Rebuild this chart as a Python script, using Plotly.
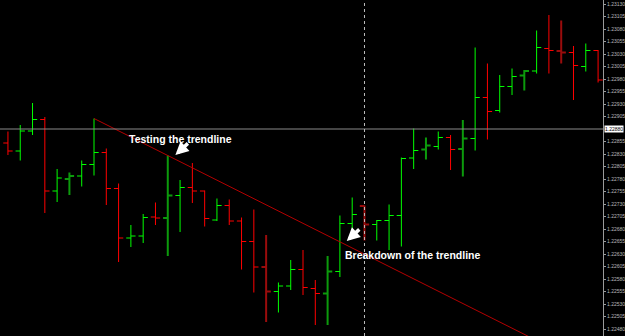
import plotly.graph_objects as go

# ---- data (EUR/USD style price bars) ----
bar_index = list(range(49))
opens = [1.22852, 1.22836, 1.22876, 1.22899, 1.22756, 1.22780, 1.22786, 1.22809, 1.22833, 1.22761,
         1.22662, 1.22666, 1.22704, 1.22702, 1.22747, 1.22763, 1.22756, 1.22698, 1.22727, 1.22696,
         1.22655, 1.22604, 1.22555, 1.22566, 1.22599, 1.22561, 1.22551, 1.22595, 1.22691, 1.22726,
         1.22689, 1.22697, 1.22707, 1.22822, 1.22839, 1.22845, 1.22863, 1.22840, 1.22861, 1.22943,
         1.22917, 1.22965, 1.22987, 1.22996, 1.23041, 1.23036, 1.23033, 1.23005, 1.23037]
highs = [1.22875, 1.22888, 1.22932, 1.22904, 1.22800, 1.22793, 1.22817, 1.22901, 1.22841, 1.22771,
         1.22688, 1.22710, 1.22733, 1.22827, 1.22778, 1.22812, 1.22757, 1.22741, 1.22739, 1.22703,
         1.22719, 1.22668, 1.22573, 1.22618, 1.22638, 1.22578, 1.22626, 1.22707, 1.22743, 1.22727,
         1.22698, 1.22729, 1.22823, 1.22881, 1.22863, 1.22875, 1.22868, 1.22898, 1.23043, 1.23011,
         1.22988, 1.23001, 1.22998, 1.23077, 1.23108, 1.23097, 1.23046, 1.23051, 1.23038]
lows = [1.22828, 1.22817, 1.22868, 1.22712, 1.22734, 1.22748, 1.22765, 1.22787, 1.22728, 1.22614,
        1.22644, 1.22652, 1.22688, 1.22626, 1.22674, 1.22732, 1.22685, 1.22696, 1.22688, 1.22599,
        1.22553, 1.22494, 1.22513, 1.22558, 1.22548, 1.22488, 1.22488, 1.22584, 1.22671, 1.22657,
        1.22657, 1.22638, 1.22645, 1.22800, 1.22819, 1.22839, 1.22798, 1.22785, 1.22837, 1.22859,
        1.22913, 1.22948, 1.22957, 1.22991, 1.22991, 1.23011, 1.22938, 1.22995, 1.22973]
closes = [1.22836, 1.22876, 1.22899, 1.22756, 1.22782, 1.22786, 1.22809, 1.22833, 1.22761, 1.22662,
          1.22666, 1.22703, 1.22702, 1.22747, 1.22763, 1.22756, 1.22701, 1.22727, 1.22696, 1.22655,
          1.22604, 1.22555, 1.22566, 1.22599, 1.22563, 1.22551, 1.22595, 1.22691, 1.22709, 1.22689,
          1.22697, 1.22707, 1.22821, 1.22837, 1.22847, 1.22863, 1.22839, 1.22861, 1.22943, 1.22915,
          1.22965, 1.22985, 1.22996, 1.23043, 1.23037, 1.23033, 1.23007, 1.23037, 1.22978]

# bars rendered blurred (half-pixel) in the original terminal
blurred_bars = [5, 13, 21, 26, 29, 34, 37, 42, 45]

# trendline anchors (bar index, price) and its ray end
trend_x = [7, 13]
trend_y = [1.22901, 1.22827]
trend_end_index = 56

level_price = 1.22880        # horizontal line / highlighted price
cursor_bar = 29              # vertical dotted cursor line

# right-axis price labels (the highlighted level label replaces its own tick)
tick_prices = [1.22480, 1.22505, 1.22530, 1.22555, 1.22580, 1.22605, 1.22630, 1.22655, 1.22680,
               1.22705, 1.22730, 1.22755, 1.22780, 1.22805, 1.22830, 1.22855,
               1.22905, 1.22930, 1.22955, 1.22980, 1.23005, 1.23030, 1.23055, 1.23080,
               1.23105, 1.23130]
y_range = [1.22466, 1.23138]
x_range = [-0.646, 48.40]

label_testing = "Testing the trendline"
label_breakdown = "Breakdown of the trendline"

# ---- build figure ----
fig = go.Figure()

def subset(values, keep):
    return [v if keep(i) else None for i, v in enumerate(values)]

for is_blur in (False, True):
    keep = (lambda i, b=is_blur: (i in blurred_bars) == b)
    fig.add_trace(go.Ohlc(
        x=bar_index,
        open=subset(opens, keep), high=subset(highs, keep),
        low=subset(lows, keep), close=subset(closes, keep),
        increasing=dict(line=dict(color="#0c9a0c" if is_blur else "#00ff00", width=2 if is_blur else 1)),
        decreasing=dict(line=dict(color="#9a0c0c" if is_blur else "#ff0000", width=2 if is_blur else 1)),
        tickwidth=0.38, showlegend=False, hoverinfo="skip",
    ))

slope = (trend_y[1] - trend_y[0]) / (trend_x[1] - trend_x[0])
fig.add_trace(go.Scatter(
    x=[trend_x[0], trend_end_index],
    y=[trend_y[0], trend_y[0] + slope * (trend_end_index - trend_x[0])],
    mode="lines", line=dict(color="#b40000", width=1),
    showlegend=False, hoverinfo="skip",
))

fig.add_shape(type="line", xref="paper", yref="y", x0=0, x1=1, y0=level_price, y1=level_price,
              line=dict(color="#8a8a8a", width=1))
fig.add_shape(type="line", xref="x", yref="paper", x0=cursor_bar, x1=cursor_bar, y0=0, y1=1,
              line=dict(color="#bdbdbd", width=1, dash="dot"))

# text labels
fig.add_annotation(x=9.70, y=1.22860, text="<b>" + label_testing + "</b>", showarrow=False,
                   xanchor="left", yanchor="middle",
                   font=dict(family="Liberation Sans, Arial", size=10.5, color="#ffffff"))
fig.add_annotation(x=27.23, y=1.22628, text="<b>" + label_breakdown + "</b>", showarrow=False,
                   xanchor="left", yanchor="middle",
                   font=dict(family="Liberation Sans, Arial", size=10.5, color="#ffffff"))
# arrows
fig.add_annotation(x=13.62, y=1.22828, ax=14, ay=-13, text="", showarrow=True,
                   arrowhead=2, arrowsize=0.75, arrowwidth=3.5, arrowcolor="#ffffff", standoff=0)
fig.add_annotation(x=27.56, y=1.22656, ax=14, ay=-13, text="", showarrow=True,
                   arrowhead=2, arrowsize=0.75, arrowwidth=3.5, arrowcolor="#ffffff", standoff=0)

# highlighted price on axis
fig.add_annotation(xref="paper", x=1, y=level_price, text=f"{level_price:.5f}", showarrow=False,
                   xanchor="left", yanchor="middle", xshift=1, bgcolor="#ffffff", borderpad=0,
                   font=dict(family="Liberation Sans, Arial", size=5, color="#000000"))

fig.update_layout(
    width=625, height=336,
    margin=dict(l=0, r=18, t=0, b=0),
    paper_bgcolor="#000000", plot_bgcolor="#000000",
    xaxis=dict(range=x_range, showgrid=False, zeroline=False, showticklabels=False,
               rangeslider=dict(visible=False), fixedrange=True),
    yaxis=dict(range=y_range, side="right", showgrid=False, zeroline=False,
               tickmode="array", tickvals=tick_prices,
               ticktext=[f"{p:.5f}" for p in tick_prices],
               ticks="outside", ticklen=2, tickcolor="#9a9a9a",
               showline=True, linecolor="#9a9a9a", linewidth=1,
               tickfont=dict(family="Liberation Sans, Arial", size=5, color="#b8b8b8")),
    showlegend=False,
)

fig.write_html("out.html")
